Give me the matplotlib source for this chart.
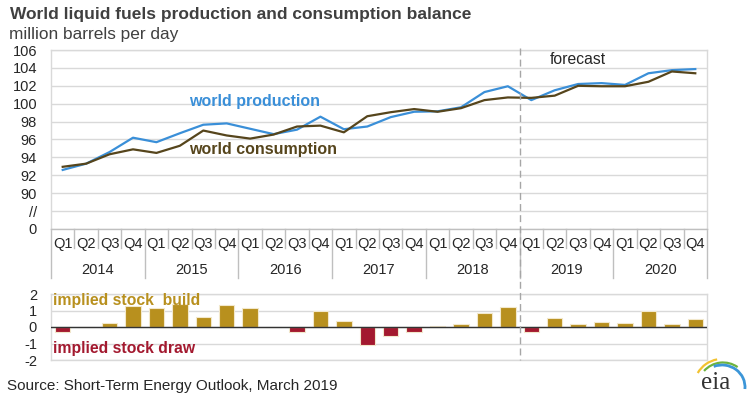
import numpy as np
import matplotlib
matplotlib.use("Agg")
import matplotlib.pyplot as plt
from matplotlib.lines import Line2D
from matplotlib.patches import Arc

plt.rcParams['font.family'] = ['Liberation Sans', 'DejaVu Sans']
plt.rcParams['axes.unicode_minus'] = False

# dane
years = ['2014', '2015', '2016', '2017', '2018', '2019', '2020']
quarters = ['Q1', 'Q2', 'Q3', 'Q4']
production = [92.6, 93.3, 94.6, 96.2, 95.7, 96.7, 97.65, 97.8,
              97.2, 96.6, 97.1, 98.55, 97.15, 97.45, 98.5, 99.1,
              99.15, 99.6, 101.3, 101.95, 100.4, 101.5, 102.2, 102.3,
              102.1, 103.4, 103.75, 103.87]
consumption = [92.95, 93.3, 94.35, 94.9, 94.5, 95.3, 97.0, 96.45,
               96.1, 96.55, 97.45, 97.55, 96.8, 98.6, 99.05, 99.4,
               99.1, 99.5, 100.4, 100.7, 100.65, 100.9, 102.0, 101.95,
               101.95, 102.45, 103.6, 103.4]
stock_change = [-0.3, 0.0, 0.22, 1.27, 1.15, 1.4, 0.62, 1.36,
                1.14, 0.02, -0.3, 0.98, 0.34, -1.1, -0.53, -0.32,
                0.08, 0.16, 0.84, 1.23, -0.3, 0.56, 0.18, 0.32,
                0.22, 0.96, 0.2, 0.46]
forecast_start = 20  # indice do primeiro trimestre previsto

W, H = 749, 399
c_prod = '#3A8FD8'
c_cons = '#56451C'
c_build = '#B8901E'
c_draw = '#A3192F'
c_grid = '#D9D9D9'
c_text = '#262626'

fig = plt.figure(figsize=(W / 100, H / 100), dpi=100)

def px_axes(x0, y0, x1, y1):
    return fig.add_axes([x0 / W, 1 - y1 / H, (x1 - x0) / W, (y1 - y0) / H])

n = len(production)
x = np.arange(n) + 0.5

# Passo 1: painel superior (producao e consumo)
ax = px_axes(51, 50, 707, 229)
ax.plot(x, production, color=c_prod, lw=1.6, zorder=3)
ax.plot(x, consumption, color=c_cons, lw=1.6, zorder=3)
ax.set_xlim(0, n)
ax.set_ylim(86, 106)
yt = np.arange(86, 107, 2)
ax.set_yticks(yt)
ax.set_yticklabels(['0', '//'] + [str(v) for v in yt[2:]])
ax.grid(axis='y', color=c_grid, lw=1)
ax.set_xticks([])
ax.tick_params(axis='y', length=0, labelsize=10.5, colors=c_text, pad=10)
for s in ax.spines.values():
    s.set_color(c_grid)
    s.set_linewidth(1)
ax.spines['bottom'].set_color('#BFBFBF')

# rotulos de categoria em dois niveis
for i in range(n):
    ax.text(i + 0.5, -0.085, quarters[i % 4], transform=ax.get_xaxis_transform(),
            ha='center', va='center', fontsize=10.5, color=c_text)
for i in range(n + 1):
    low = -0.275 if i % 4 == 0 else -0.108
    ax.add_line(Line2D([i, i], [0, low], transform=ax.get_xaxis_transform(),
                       color='#BFBFBF', lw=1, clip_on=False))
for k, yr in enumerate(years):
    ax.text(4 * k + 2, -0.23, yr, transform=ax.get_xaxis_transform(),
            ha='center', va='center', fontsize=10.5, color=c_text)

ax.text(5.9, 100.3, 'world production', color=c_prod, fontsize=11.5,
        fontweight='bold', va='center')
ax.text(5.9, 94.9, 'world consumption', color=c_cons, fontsize=11.5,
        fontweight='bold', va='center')
ax.text(21.3, 104.9, 'forecast', color=c_text, fontsize=11.3, va='center')

# Passo 2: painel inferior (variacao de estoques)
bx = px_axes(51, 294, 707, 360)
cols = [c_build if v >= 0 else c_draw for v in stock_change]
bx.bar(x, stock_change, width=0.66, color=cols, edgecolor='#F2E8CC',
       linewidth=0.8, zorder=3)
bx.axhline(0, color='#333333', lw=1, zorder=4)
bx.set_xlim(0, n)
bx.set_ylim(-2, 2)
bx.set_yticks([-2, -1, 0, 1, 2])
bx.grid(axis='y', color=c_grid, lw=1)
bx.set_xticks([])
bx.tick_params(axis='y', length=0, labelsize=10.5, colors=c_text, pad=10)
for s in bx.spines.values():
    s.set_color(c_grid)
    s.set_linewidth(1)
bx.text(0.1, 1.6, 'implied stock  build', color=c_build, fontsize=11.3,
        fontweight='bold', va='center')
bx.text(0.1, -1.3, 'implied stock draw', color=c_draw, fontsize=11.3,
        fontweight='bold', va='center')

# linha tracejada do inicio da previsao
xf = 51 + forecast_start * (707 - 51) / n
fig.add_artist(Line2D([xf / W, xf / W], [1 - 48 / H, 1 - 360 / H],
                      color='#A6A6A6', lw=1, ls=(0, (5, 3))))

# titulos e fonte
fig.text(10 / W, 1 - 15 / H, 'World liquid fuels production and consumption balance',
         fontsize=12.5, fontweight='bold', color='#404040', va='center')
fig.text(9 / W, 1 - 34 / H, 'million barrels per day', fontsize=12.4,
         color='#404040', va='center')
fig.text(7 / W, 1 - 386 / H, 'Source: Short-Term Energy Outlook, March 2019',
         fontsize=11, color=c_text, va='center')

# logotipo eia
lx = px_axes(692, 340, 749, 399)
lx.set_xlim(0, 57)
lx.set_ylim(0, 59)
lx.axis('off')
lx.add_patch(Arc((30, 12), 56, 56, theta1=100, theta2=150, color='#F2C230', lw=1.6))
lx.add_patch(Arc((31, 11), 51, 51, theta1=55, theta2=138, color='#6DB33F', lw=1.6))
lx.add_patch(Arc((30, 12), 46, 44, theta1=-5, theta2=112, color='#3C96D8', lw=2))
lx.text(24, 16, 'eia', fontsize=18, family=['Liberation Serif', 'DejaVu Serif'],
        color='#333333', ha='center', va='center')

fig.savefig('out.png', dpi=100)
